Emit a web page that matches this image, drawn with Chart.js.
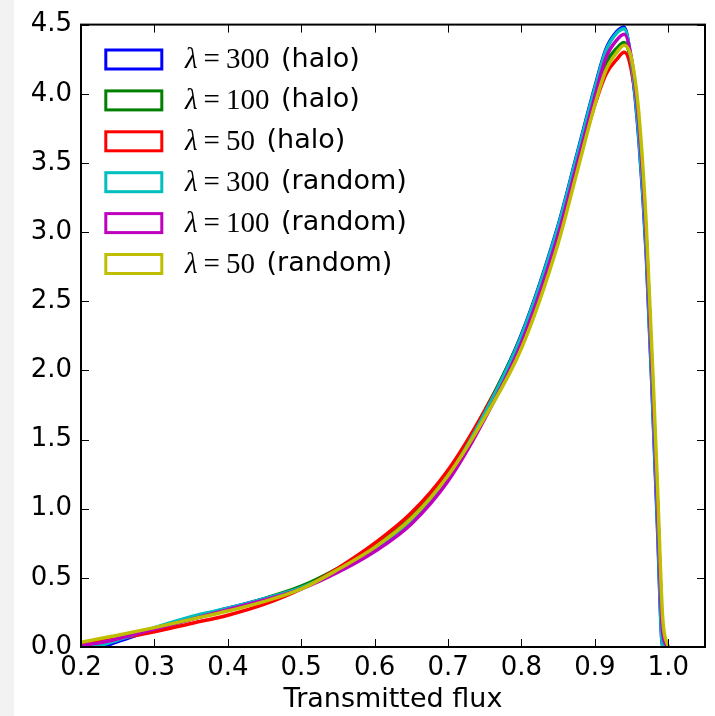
<!DOCTYPE html>
<html>
<head>
<meta charset="utf-8">
<script src="https://cdn.jsdelivr.net/npm/chart.js@4.4.1/dist/chart.umd.min.js"></script>
<style>
    html, body { margin: 0; padding: 0; background: #f2f2f2; }
    #wrap { margin-left: 14px; width: 701px; height: 716px; background: #fff; }
</style>
</head>
<body>
<div id="wrap"><canvas id="chart" width="701" height="716"></canvas></div>
<script>
const fluxX = [0.2, 0.225, 0.25, 0.3, 0.35, 0.4, 0.45, 0.5, 0.55, 0.6, 0.65, 0.7, 0.75, 0.8,
    0.85, 0.875, 0.9, 0.915, 0.93, 0.94, 0.95, 0.96, 0.97, 0.98, 0.985, 0.9925, 1.0];

const halo300 = [0, 0, 0.04, 0.13, 0.21, 0.28, 0.35, 0.43, 0.55, 0.71, 0.92, 1.24, 1.7, 2.26,
    3.05, 3.55, 4.05, 4.32, 4.45, 4.48, 4.2, 3.66, 2.83, 1.57, 0.9, 0, 0];
const halo100 = [0.01, 0.03, 0.06, 0.13, 0.2, 0.27, 0.35, 0.44, 0.57, 0.73, 0.94, 1.26, 1.71, 2.25,
    3.02, 3.5, 3.98, 4.22, 4.33, 4.37, 4.2, 3.75, 2.92, 1.7, 1.05, 0.1, 0];
const halo50 = [0.02, 0.04, 0.06, 0.11, 0.17, 0.23, 0.31, 0.42, 0.57, 0.75, 0.97, 1.28, 1.71, 2.22,
    2.98, 3.46, 3.92, 4.14, 4.25, 4.3, 4.16, 3.75, 2.95, 1.72, 1.08, 0.12, 0];
const random300 = [0, 0.01, 0.05, 0.14, 0.22, 0.28, 0.35, 0.43, 0.55, 0.71, 0.91, 1.23, 1.69, 2.25,
    3.04, 3.54, 4.04, 4.31, 4.44, 4.47, 4.22, 3.68, 2.86, 1.6, 0.95, 0, 0];
const random100 = [0.01, 0.03, 0.06, 0.13, 0.2, 0.27, 0.34, 0.42, 0.54, 0.69, 0.89, 1.2, 1.65, 2.2,
    2.98, 3.48, 3.98, 4.26, 4.39, 4.43, 4.25, 3.78, 2.95, 1.72, 1.06, 0.1, 0];
const random50 = [0.035, 0.06, 0.085, 0.14, 0.2, 0.26, 0.33, 0.42, 0.56, 0.72, 0.93, 1.24, 1.66, 2.16,
    2.92, 3.42, 3.92, 4.17, 4.3, 4.35, 4.25, 3.85, 3.05, 1.85, 1.2, 0.2, 0];

const seriesValues = [halo300, halo100, halo50, random300, random100, random50];
const lambdas = ["300", "100", "50", "300", "100", "50"];
const sampleNames = ["halo", "halo", "halo", "random", "random", "random"];
const colors = ["#0000ff", "#008000", "#ff0000", "#00bfbf", "#bf00bf", "#bfbf00"];

const xTicks = [0.2, 0.3, 0.4, 0.5, 0.6, 0.7, 0.8, 0.9, 1.0];
const yTicks = [0, 0.5, 1.0, 1.5, 2.0, 2.5, 3.0, 3.5, 4.0, 4.5];

const FONT = "'DejaVu Sans', sans-serif";

// frame and inward ticks on all four sides, like matplotlib classic
const framePlugin = {
    id: "frame",
    afterDatasetsDraw(chart) {
        const { ctx, chartArea: a, scales } = chart;
        ctx.save();
        ctx.strokeStyle = "#000";
        ctx.lineWidth = 1;
        ctx.beginPath();
        xTicks.forEach(v => {
            const px = Math.round(scales.x.getPixelForValue(v)) + 0.5;
            ctx.moveTo(px, a.bottom); ctx.lineTo(px, a.bottom - 8);
            ctx.moveTo(px, a.top); ctx.lineTo(px, a.top + 8);
        });
        yTicks.forEach(v => {
            const py = Math.round(scales.y.getPixelForValue(v)) + 0.5;
            ctx.moveTo(a.left, py); ctx.lineTo(a.left + 8, py);
            ctx.moveTo(a.right, py); ctx.lineTo(a.right - 8, py);
        });
        ctx.stroke();
        ctx.lineWidth = 2;
        ctx.strokeRect(a.left, a.top, a.right - a.left, a.bottom - a.top);
        ctx.restore();
    }
};

// legend with empty boxes and mixed math/sans text
const legendPlugin = {
    id: "mathLegend",
    afterDraw(chart) {
        const ctx = chart.ctx;
        ctx.save();
        chart.data.datasets.forEach((ds, i) => {
            const cy = 59.5 + i * 40.9;
            ctx.strokeStyle = ds.borderColor;
            ctx.lineWidth = 3;
            ctx.strokeRect(91.8, cy - 9.5, 56, 19);
            ctx.fillStyle = "#000";
            ctx.textBaseline = "middle";
            let x = 171;
            ctx.font = "italic 29px 'Liberation Serif', serif";
            ctx.fillText("λ", x, cy + 1);
            x += ctx.measureText("λ").width + 6;
            ctx.font = "29px 'Liberation Serif', serif";
            ctx.fillText("=", x, cy + 1);
            x += ctx.measureText("=").width + 6;
            ctx.fillText(lambdas[i], x, cy + 1);
            x += ctx.measureText(lambdas[i]).width + 3;
            ctx.font = "27px " + FONT;
            ctx.fillText(" (" + sampleNames[i] + ")", x, cy);
        });
        ctx.restore();
    }
};

const datasets = seriesValues.map((vals, i) => ({
    label: "λ=" + lambdas[i] + " (" + sampleNames[i] + ")",
    data: fluxX.map((x, j) => ({ x, y: vals[j] })),
    borderColor: colors[i],
    borderWidth: 3.5,
    pointRadius: 0,
    fill: false,
    showLine: true,
    cubicInterpolationMode: "monotone",
    order: seriesValues.length - i
}));

new Chart(document.getElementById("chart"), {
    type: "scatter",
    data: { datasets },
    options: {
        responsive: false,
        animation: false,
        layout: { padding: { top: 23, right: 10, left: 0, bottom: 0 } },
        plugins: {
            legend: { display: false },
            tooltip: { enabled: false }
        },
        scales: {
            x: {
                type: "linear",
                min: 0.2,
                max: 1.05,
                afterBuildTicks: s => { s.ticks = xTicks.map(v => ({ value: v })); },
                afterFit: s => { s.height = 69; },
                grid: { display: false, drawTicks: false },
                border: { display: false },
                ticks: {
                    padding: 6,
                    color: "#000",
                    font: { family: FONT, size: 26 },
                    maxRotation: 0,
                    callback: v => Number(v).toFixed(1)
                },
                title: {
                    display: true,
                    text: "Transmitted flux",
                    color: "#000",
                    font: { family: FONT, size: 27 },
                    padding: { top: 0, bottom: 0 }
                }
            },
            y: {
                min: 0,
                max: 4.5,
                afterBuildTicks: s => { s.ticks = yTicks.map(v => ({ value: v })); },
                afterFit: s => { s.width = 67; },
                grid: { display: false, drawTicks: false },
                border: { display: false },
                ticks: {
                    padding: 9,
                    color: "#000",
                    font: { family: FONT, size: 26 },
                    callback: v => Number(v).toFixed(1)
                }
            }
        }
    },
    plugins: [framePlugin, legendPlugin]
});
</script>
</body>
</html>
